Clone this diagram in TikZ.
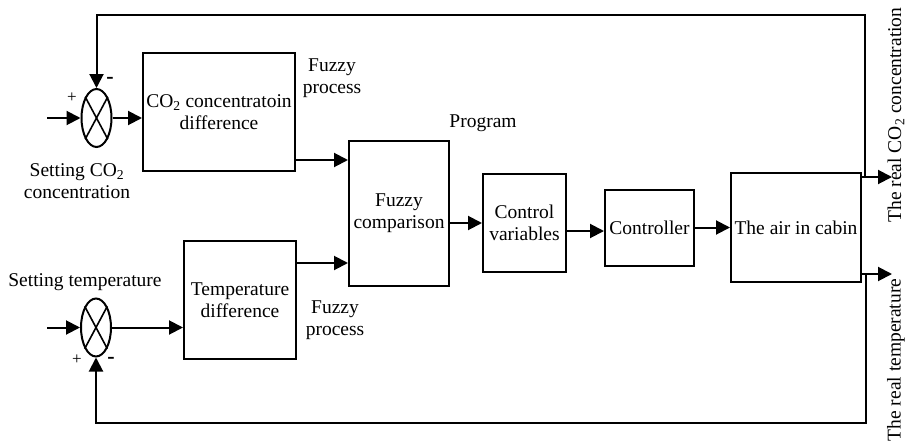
\documentclass[tikz,border=0pt]{standalone}
\usepackage{fontspec}
\setmainfont{Liberation Serif}
\usetikzlibrary{arrows.meta,shapes.geometric}
\begin{document}
\begin{tikzpicture}[x=1pt,y=-1pt,
  every node/.style={font=\fontsize{19.5}{22}\selectfont},
  blk/.style={draw,line width=2pt,rectangle,inner sep=0pt,align=center},
  sumj/.style={draw,line width=2pt,ellipse,minimum width=30pt,minimum height=58pt,inner sep=0pt},
  lbl/.style={align=center,inner sep=0pt},
  plus/.style={inner sep=0pt,font=\fontsize{17}{17}\selectfont},
  minus/.style={inner sep=0pt,font=\fontsize{22}{22}\selectfont\bfseries},
  sig/.style={line width=2pt,-{Triangle[length=14pt,width=14pt]}},
  wire/.style={line width=1.6pt},
]
\useasboundingbox (0,0) rectangle (908,442);

% summing junctions
\node[sumj] (s1) at (96.5,118) {};
\node[sumj] (s2) at (96,327.5) {};
\draw[wire] (s1.north west) -- (s1.south east) (s1.north east) -- (s1.south west);
\draw[wire] (s2.north west) -- (s2.south east) (s2.north east) -- (s2.south west);

% blocks
\node[blk,minimum width=152pt,minimum height=118pt] (co2) at (219,112) {CO\textsubscript{2} concentratoin\\difference};
\node[blk,minimum width=112pt,minimum height=118pt] (temp) at (240,300) {Temperature\\difference};
\node[blk,minimum width=100pt,minimum height=145pt] (fc) at (399,213.5) {Fuzzy\\comparison};
\node[blk,minimum width=83pt,minimum height=98pt] (cv) at (524.5,223) {Control\\variables};
\node[blk,minimum width=89pt,minimum height=76pt] (ctrl) at (649.5,228) {Controller};
\node[blk,minimum width=130pt,minimum height=109pt] (air) at (796,227.5) {The air in cabin};

% free ends and corners
\coordinate (in1) at (47,118);
\coordinate (in2) at (47,327.5);
\coordinate (o1) at (892,177);
\coordinate (o2) at (892,274);
\coordinate (j1) at (865,177);
\coordinate (t1) at (865,15);
\coordinate (j2) at (866,274);
\coordinate (b2) at (866,423);

% forward signal path
\draw[sig] (in1) -- (s1.west);
\draw[sig] (s1.east) -- (co2.west |- s1.east);
\draw[sig] (co2.east |- 0,160) -- (fc.west |- 0,160);
\draw[sig] (in2) -- (s2.west);
\draw[sig] (s2.east) -- (temp.west |- s2.east);
\draw[sig] (temp.east |- 0,263) -- (fc.west |- 0,263);
\draw[sig] (fc.east |- cv.west) -- (cv.west);
\draw[sig] (cv.east |- 0,231) -- (ctrl.west |- 0,231);
\draw[sig] (ctrl.east |- air.west) -- (air.west);
\draw[sig] (air.east |- o1) -- (o1);
\draw[sig] (air.east |- o2) -- (o2);

% feedback loops
\draw[sig] (j1) -- (t1) -| (s1.north);
\draw[sig] (j2) -- (b2) -| (s2.south);

% labels
\node[lbl] (fp1) at (332,78) {Fuzzy\\process};
\node[lbl] (fp2) at (335,320) {Fuzzy\\process};
\node[lbl] (prog) at (483,123) {Program};
\node[lbl] (stemp) at (85,282) {Setting temperature};
\node[lbl] (sco2) at (77,181) {Setting CO\textsubscript{2}\\concentration};
\node[lbl,rotate=90] (rco2) at (896,115) {The real CO\textsubscript{2} concentration};
\node[lbl,rotate=90] (rtemp) at (896,360) {The real temperature};

% signs at the junctions
\node[plus] (p1) at (72,98) {+};
\node[minus] (m1) at (110,80) {-};
\node[plus] (p2) at (77,360) {+};
\node[minus] (m2) at (111,360) {-};
\end{tikzpicture}
\end{document}
